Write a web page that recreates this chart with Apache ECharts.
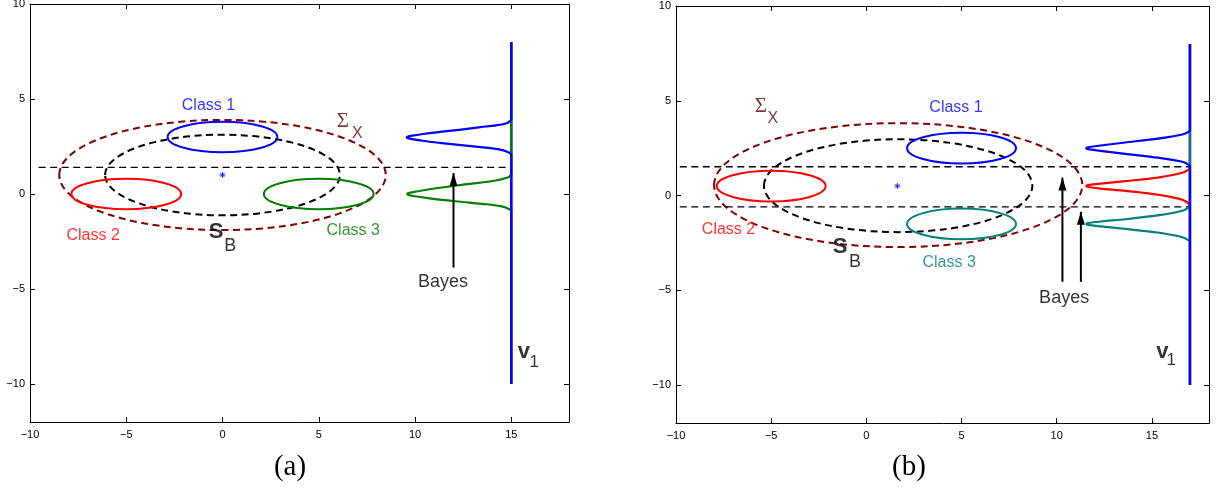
<!DOCTYPE html>
<html><head><meta charset="utf-8">
<script src="https://cdn.jsdelivr.net/npm/echarts@6/dist/echarts.min.js"></script>
<style>html,body{margin:0;padding:0;background:#fff}#c{width:1220px;height:490px}</style>
</head><body><div id="c"></div>
<script>
// ---------- shared ----------
const xTicks = [-10, -5, 0, 5, 10, 15];
const yTicks = [-10, -5, 0, 5, 10];
const xRange = [-10, 18];
const yRange = [-12, 10];
const classNames = ['Class 1', 'Class 2', 'Class 3'];

// ---------- panel (a) ----------
// ellipses: [centre x, centre y, semi-axis x, semi-axis y]
const aClassEllipses = [[0, 3, 2.85, 0.8], [-5, 0, 2.85, 0.8], [5, 0, 2.85, 0.8]];
const aSigmaX = [[0, 1, 8.48, 2.9]];
const aSB = [[0, 1, 6.1, 2.12]];
const aMean = [[0, 1]];
const aThreshold = [[-9.55, 1.4], [15, 1.4]];
const aV1 = [[15, 8], [15, -10]];
const aProj1 = [[15, 8], [15, 4.3], [15, 3.93], [14.8, 3.74], [14.2, 3.61], [13.4, 3.52], [12.4, 3.39], [11.4, 3.28], [10.5, 3.17], [9.85, 3.07], [9.63, 3.02], [9.57, 2.98], [9.63, 2.94], [9.85, 2.89], [10.5, 2.79], [11.4, 2.68], [12.4, 2.57], [13.4, 2.47], [14.3, 2.36], [14.85, 2.2], [15, 2.05], [15, 1.7], [15, -10]];
const aProj23 = [[15, 8], [15, 1.4], [15, 1.05], [14.85, 0.88], [14.2, 0.71], [13.4, 0.6], [12.5, 0.49], [11.7, 0.38], [10.75, 0.25], [10.0, 0.12], [9.66, 0.05], [9.6, 0.0], [9.66, -0.05], [10.0, -0.12], [10.75, -0.23], [11.7, -0.34], [12.5, -0.42], [13.6, -0.53], [14.5, -0.65], [14.9, -0.8], [15, -0.93], [15, -1.3], [15, -10]];
const aArrows = [[[12, -3.87], [12, 1.1]]];
const aClassLabelPos = [[-0.73, 4.67], [-6.72, -2.21], [6.79, -1.91]];
const aSigmaPos = [[6.25, 3.83]], aSigmaSubPos = [[7.0, 3.18]];
const aSPos = [[-0.33, -2.0]], aSSubPos = [[0.4, -2.72]];
const aBayesPos = [[11.46, -4.63]];
const aVPos = [[15.65, -8.32]], aVSubPos = [[16.2, -8.84]];

// ---------- panel (b) ----------
const bClassEllipses = [[5, 2.5, 2.86, 0.81], [-5, 0.5, 2.86, 0.81], [5, -1.5, 2.86, 0.81]];
const bSigmaX = [[1.67, 0.55, 9.67, 3.27]];
const bSB = [[1.67, 0.52, 7.05, 2.45]];
const bMean = [[1.63, 0.5]];
const bThreshold1 = [[-9.8, 1.52], [17, 1.52]];
const bThreshold2 = [[-9.8, -0.6], [17, -0.6]];
const bV1 = [[17, 8], [17, -10]];
const bProj1 = [[17, 8], [17, 3.8], [17, 3.45], [16.6, 3.22], [15.3, 3.0], [13.6, 2.8], [12.3, 2.64], [11.65, 2.55], [11.55, 2.5], [11.65, 2.45], [12.3, 2.36], [13.6, 2.2], [15.3, 2.0], [16.6, 1.78], [17, 1.53], [17, 1.2], [17, -10]];
const bProj2 = [[17, 8], [17, 1.8], [17, 1.47], [16.6, 1.2], [15.3, 0.95], [13.6, 0.76], [12.3, 0.63], [11.65, 0.55], [11.55, 0.5], [11.65, 0.45], [12.3, 0.37], [13.6, 0.25], [15.3, 0.05], [16.6, -0.22], [17, -0.53], [17, -0.8], [17, -10]];
const bProj3 = [[17, 8], [17, -0.2], [17, -0.55], [16.6, -0.8], [15.3, -1.05], [13.6, -1.25], [12.3, -1.37], [11.65, -1.45], [11.55, -1.5], [11.65, -1.55], [12.3, -1.63], [13.6, -1.76], [15.3, -1.95], [16.6, -2.2], [17, -2.45], [17, -2.8], [17, -10]];
const bArrows = [[[10.3, -4.55], [10.3, 0.95]], [[11.27, -4.55], [11.27, -0.86]]];
const bClassLabelPos = [[4.71, 4.62], [-7.24, -1.81], [4.35, -3.54]];
const bSigmaPos = [[-5.54, 4.68]], bSigmaSubPos = [[-4.91, 4.04]];
const bSPos = [[-1.38, -2.73]], bSSubPos = [[-0.59, -3.49]];
const bBayesPos = [[10.39, -5.43]];
const bVPos = [[15.55, -8.25]], bVSubPos = [[16.02, -8.69]];

// ---------- styles ----------
const BLUE = '#0000ff', RED = '#ff0000', GREEN = '#008000', TEAL = '#008080', MAROON = '#800000';
const aColors = [BLUE, RED, GREEN];
const bColors = [BLUE, RED, TEAL];
const SANS = '"Liberation Sans", Arial, sans-serif';
const SERIF = '"Liberation Serif", "DejaVu Serif", serif';
const DASH = [7, 4.5];

const fmt = v => (v < 0 ? '\u2212' : '') + Math.abs(v);

function axesFor(gi) {
  const line = { show: true, onZero: false, lineStyle: { color: '#000', width: 1 } };
  const tick = (vals) => ({ show: true, inside: true, length: 5, customValues: vals, lineStyle: { color: '#000', width: 1 } });
  const xs = [
    { type: 'value', gridIndex: gi, position: 'bottom', min: xRange[0], max: xRange[1],
      axisLine: line, axisTick: tick(xTicks), splitLine: { show: false },
      axisLabel: { customValues: xTicks, formatter: fmt, color: '#000', fontSize: 11, fontFamily: SANS, margin: 7 } },
    { type: 'value', gridIndex: gi, position: 'top', min: xRange[0], max: xRange[1],
      axisLine: line, axisTick: tick(xTicks), splitLine: { show: false }, axisLabel: { show: false } }
  ];
  const ys = [
    { type: 'value', gridIndex: gi, position: 'left', min: yRange[0], max: yRange[1],
      axisLine: line, axisTick: tick(yTicks), splitLine: { show: false },
      axisLabel: { customValues: yTicks, formatter: fmt, color: '#000', fontSize: 11, fontFamily: SANS, margin: 5 } },
    { type: 'value', gridIndex: gi, position: 'right', min: yRange[0], max: yRange[1],
      axisLine: line, axisTick: tick(yTicks), splitLine: { show: false }, axisLabel: { show: false } }
  ];
  return { xs, ys };
}

function ellipseSeries(gi, list, colors, dash, width, z) {
  return {
    type: 'custom', xAxisIndex: gi * 2, yAxisIndex: gi * 2, z, silent: true, clip: false,
    encode: { x: 0, y: 1 },
    data: list.map(e => e.slice()),
    renderItem: (params, api) => {
      const c = api.coord([api.value(0), api.value(1)]);
      const s = api.size([api.value(2), api.value(3)]);
      return {
        type: 'ellipse',
        shape: { cx: c[0], cy: c[1], rx: s[0], ry: s[1] },
        style: { fill: 'none', stroke: colors[params.dataIndex % colors.length], lineWidth: width, lineDash: dash || null }
      };
    }
  };
}

function lineSeries(gi, pts, color, width, dash, smooth, z) {
  return {
    type: 'line', xAxisIndex: gi * 2, yAxisIndex: gi * 2, z, silent: true,
    data: pts, showSymbol: false, symbol: 'none', smooth: smooth || false,
    lineStyle: { color, width, type: dash || 'solid', cap: 'butt', join: 'round' }
  };
}

function arrowSeries(gi, seg, z) {
  return {
    type: 'line', xAxisIndex: gi * 2, yAxisIndex: gi * 2, z, silent: true,
    showSymbol: true,
    data: [
      { value: seg[0], symbol: 'none' },
      { value: seg[1], symbol: 'triangle', symbolSize: [8, 13], symbolOffset: [0, '50%'] }
    ],
    itemStyle: { color: '#000' },
    lineStyle: { color: '#000', width: 2 }
  };
}

function textSeries(gi, pos, texts, colors, font, z) {
  return {
    type: 'scatter', xAxisIndex: gi * 2, yAxisIndex: gi * 2, z, silent: true,
    symbolSize: 1, itemStyle: { color: 'rgba(0,0,0,0)' },
    data: pos.map((p, i) => ({ value: p, name: texts[i], label: { color: colors[i % colors.length] } })),
    label: Object.assign({ show: true, position: 'inside', align: 'center', verticalAlign: 'middle',
      formatter: p => p.name }, font)
  };
}

function meanSeries(gi, pts, z) {
  return {
    type: 'scatter', xAxisIndex: gi * 2, yAxisIndex: gi * 2, z, silent: true,
    data: pts,
    symbol: 'path://M5,0L5,10M0,5L10,5M1.5,1.5L8.5,8.5M1.5,8.5L8.5,1.5',
    symbolSize: 6,
    itemStyle: { color: 'none', borderColor: BLUE, borderWidth: 1 }
  };
}

function panel(gi, d) {
  const s = [];
  s.push(ellipseSeries(gi, d.sigma, [MAROON], DASH, 2, 2));
  s.push(ellipseSeries(gi, d.sb, ['#000'], DASH, 2, 3));
  s.push(ellipseSeries(gi, d.classes, d.colors, null, 2, 4));
  d.thresholds.forEach(t => s.push(lineSeries(gi, t, '#000', 1.4, DASH, false, 5)));
  s.push(meanSeries(gi, d.mean, 6));
  s.push(lineSeries(gi, d.v1, BLUE, 2.5, null, false, 6));
  d.proj.forEach((p, i) => s.push(lineSeries(gi, p, d.projColors[i], 2.2, null, 0.25, 7 + i)));
  d.arrows.forEach(a => s.push(arrowSeries(gi, a, 10)));
  s.push(textSeries(gi, d.classPos, classNames, d.colors, { fontSize: 16, fontFamily: SANS }, 12));
  s.push(textSeries(gi, d.sigmaPos, ['\u03A3'], ['#600000'], { fontSize: 21, fontFamily: SERIF }, 12));
  s.push(textSeries(gi, d.sigmaSubPos, ['X'], ['#600000'], { fontSize: 16, fontFamily: SANS }, 12));
  s.push(textSeries(gi, d.sPos, ['S'], ['#000'], { fontSize: 22, fontWeight: 'bold', fontFamily: SANS }, 12));
  s.push(textSeries(gi, d.sSubPos, ['B'], ['#000'], { fontSize: 18, fontFamily: SANS }, 12));
  s.push(textSeries(gi, d.bayesPos, ['Bayes'], ['#000'], { fontSize: 18, fontFamily: SANS }, 12));
  s.push(textSeries(gi, d.vPos, ['v'], ['#000'], { fontSize: 22, fontWeight: 'bold', fontFamily: SANS }, 12));
  s.push(textSeries(gi, d.vSubPos, ['1'], ['#000'], { fontSize: 17, fontFamily: SANS }, 12));
  return s;
}

const A = axesFor(0), B = axesFor(1);
const series = [].concat(
  panel(0, { sigma: aSigmaX, sb: aSB, classes: aClassEllipses, colors: aColors, thresholds: [aThreshold],
    mean: aMean, v1: aV1, proj: [aProj23, aProj1], projColors: [GREEN, BLUE], arrows: aArrows,
    classPos: aClassLabelPos, sigmaPos: aSigmaPos, sigmaSubPos: aSigmaSubPos, sPos: aSPos, sSubPos: aSSubPos,
    bayesPos: aBayesPos, vPos: aVPos, vSubPos: aVSubPos }),
  panel(1, { sigma: bSigmaX, sb: bSB, classes: bClassEllipses, colors: bColors, thresholds: [bThreshold1, bThreshold2],
    mean: bMean, v1: bV1, proj: [bProj2, bProj3, bProj1], projColors: [RED, TEAL, BLUE], arrows: bArrows,
    classPos: bClassLabelPos, sigmaPos: bSigmaPos, sigmaSubPos: bSigmaSubPos, sPos: bSPos, sSubPos: bSSubPos,
    bayesPos: bBayesPos, vPos: bVPos, vSubPos: bVSubPos })
);

const chart = echarts.init(document.getElementById('c'), null, { renderer: 'canvas' });
chart.setOption({
  animation: false,
  backgroundColor: '#fff',
  grid: [
    { left: 30, top: 4, width: 539, height: 418, outerBoundsMode: 'none' },
    { left: 676, top: 6, width: 533, height: 417, outerBoundsMode: 'none' }
  ],
  xAxis: A.xs.concat(B.xs),
  yAxis: A.ys.concat(B.ys),
  graphic: [
    { type: 'text', x: 290, y: 467, style: { text: '(a)', fill: '#000', font: '29px "Liberation Serif", serif', align: 'center', verticalAlign: 'middle' } },
    { type: 'text', x: 909, y: 467, style: { text: '(b)', fill: '#000', font: '29px "Liberation Serif", serif', align: 'center', verticalAlign: 'middle' } }
  ],
  series
});
</script></body></html>
